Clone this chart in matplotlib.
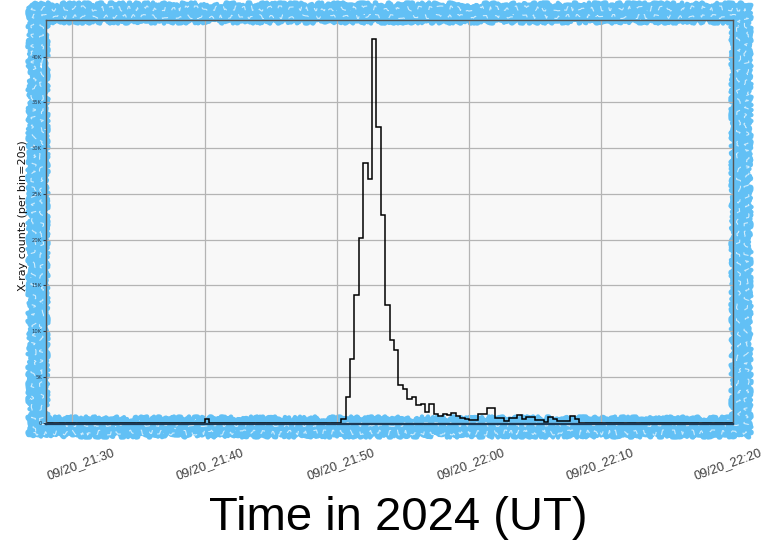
import datetime as dt
import matplotlib
matplotlib.use("Agg")
import matplotlib.pyplot as plt
import matplotlib.dates as mdates
from matplotlib.patches import Rectangle
from matplotlib.transforms import ScaledTranslation

# X-ray light curve, 20 s bins starting 2024-09-20 21:28:00 UT (one row = one minute)
t0 = dt.datetime(2024, 9, 20, 21, 28, 0)
bin_sec = 20
counts = [
    0, 0, 0,            # 21:28
    0, 0, 0,            # 21:29
    0, 0, 0,            # 21:30
    0, 0, 0,            # 21:31
    0, 0, 0,            # 21:32
    0, 0, 0,            # 21:33
    0, 0, 0,            # 21:34
    0, 0, 0,            # 21:35
    0, 0, 0,            # 21:36
    0, 0, 0,            # 21:37
    0, 0, 0,            # 21:38
    0, 0, 0,            # 21:39
    360, 0, 0,          # 21:40
    0, 0, 0,            # 21:41
    0, 0, 0,            # 21:42
    0, 0, 0,            # 21:43
    0, 0, 0,            # 21:44
    0, 0, 0,            # 21:45
    0, 0, 0,            # 21:46
    0, 0, 0,            # 21:47
    0, 0, 0,            # 21:48
    0, 0, 0,            # 21:49
    0, 400, 2800,       # 21:50
    6900, 14000, 20200, # 21:51
    28400, 26600, 41900,# 21:52
    32300, 22700, 12900,# 21:53
    9000, 7900, 4100,   # 21:54
    3700, 2600, 2800,   # 21:55
    1900, 2000, 1200,   # 21:56
    2000, 900, 700,     # 21:57
    900, 800, 1000,     # 21:58
    700, 500, 400,      # 21:59
    300, 300, 900,      # 22:00
    900, 1600, 1600,    # 22:01
    500, 500, 200,      # 22:02
    500, 500, 800,      # 22:03
    400, 600, 600,      # 22:04
    300, 300, 100,      # 22:05
    600, 400, 200,      # 22:06
    200, 200, 700,      # 22:07
    400, 0, 0,          # 22:08
    0, 0, 0,            # 22:09
    0, 0, 0,            # 22:10
    0, 0, 0,            # 22:11
    0, 0, 0,            # 22:12
    0, 0, 0,            # 22:13
    0, 0, 0,            # 22:14
    0, 0, 0,            # 22:15
    0, 0, 0,            # 22:16
    0, 0, 0,            # 22:17
    0, 0, 0,            # 22:18
    0, 0, 0,            # 22:19
]
ytick_vals = [0, 5000, 10000, 15000, 20000, 25000, 30000, 35000, 40000]
ytick_labels = ["0", "5K", "10K", "15K", "20K", "25K", "30K", "35K", "40K"]
xtick_times = [dt.datetime(2024, 9, 20, 21, 30) + dt.timedelta(minutes=10 * i) for i in range(6)]

edges = [mdates.date2num(t0 + dt.timedelta(seconds=bin_sec * i)) for i in range(len(counts) + 1)]

W, H = 766, 544
fig = plt.figure(figsize=(W / 100, H / 100), dpi=100, facecolor="white")
ax = fig.add_axes([0.0601, 0.2206, 0.8972, 0.7426])
ax.set_facecolor("#f8f8f8")

ax.stairs(counts, edges, color="black", lw=1.1, zorder=3)

ax.set_xlim(mdates.date2num(t0), mdates.date2num(xtick_times[-1]))
ax.set_ylim(-150, 44000)

ax.set_xticks([mdates.date2num(t) for t in xtick_times])
ax.xaxis.set_major_formatter(mdates.DateFormatter("%m/%d_%H:%M"))
ax.set_yticks(ytick_vals)
ax.set_yticklabels(ytick_labels)
ax.grid(True, color="#b4b4b4", lw=0.9)
ax.set_axisbelow(False)

ax.tick_params(axis="y", labelsize=3.8, length=2, pad=1, colors="#2c3e50")
ax.tick_params(axis="x", length=0, pad=22, labelsize=9.2, labelcolor="#3c3c3c")
# shift each date label a little so it sits where it should under its gridline
x_shift = [8, 5, 4, 2, -1, -5]
for lab, dx in zip(ax.get_xticklabels(), x_shift):
    lab.set_rotation(20)
    lab.set_ha("center")
    lab.set_va("center")
    lab.set_family("Liberation Sans")
    lab.set_transform(lab.get_transform() + ScaledTranslation(dx / 100, -10 / 100, fig.dpi_scale_trans))

for side in ["left", "top", "right"]:
    ax.spines[side].set_color("#555555")
    ax.spines[side].set_linewidth(1.0)
    ax.spines[side].set_zorder(5)
ax.spines["bottom"].set_color("#1d3b57")
ax.spines["bottom"].set_linewidth(1.6)
ax.spines["bottom"].set_zorder(5)

ax.set_ylabel("X-ray counts (per bin=20s)", fontsize=8, color="#111111")
ax.yaxis.set_label_coords(-0.026, 0.516)

# hand-drawn blue frame: many thin scribbled strokes stacked across the band
left, right, top, bottom = 38, 741, 13, 427
for i, d in enumerate(range(-8, 9, 2)):
    stroke = Rectangle(((left - d) / W, 1 - (bottom + d) / H),
                       (right - left + 2 * d) / W, (bottom - top + 2 * d) / H,
                       transform=fig.transFigure, fill=False, edgecolor="#62c0f5",
                       lw=3.2, clip_on=False, zorder=2, joinstyle="round")
    stroke.set_sketch_params(2.5, 6 + 3 * (i % 3), 12 + 4 * (i % 4))
    ax.add_patch(stroke)
# a few pale streaks through the band
for d, sk in [(-3, (2.0, 14, 30)), (5, (2.5, 9, 40))]:
    streak = Rectangle(((left - d) / W, 1 - (bottom + d) / H),
                       (right - left + 2 * d) / W, (bottom - top + 2 * d) / H,
                       transform=fig.transFigure, fill=False, edgecolor="white",
                       lw=0.8, alpha=0.7, clip_on=False, zorder=2.1,
                       linestyle=(0, (6, 9)))
    streak.set_sketch_params(*sk)
    ax.add_patch(streak)

fig.text(398 / W, 1 - 518 / H, "Time in 2024 (UT)", fontsize=34,
         family="Liberation Sans", ha="center", va="center")

fig.savefig("out.png", dpi=100)
